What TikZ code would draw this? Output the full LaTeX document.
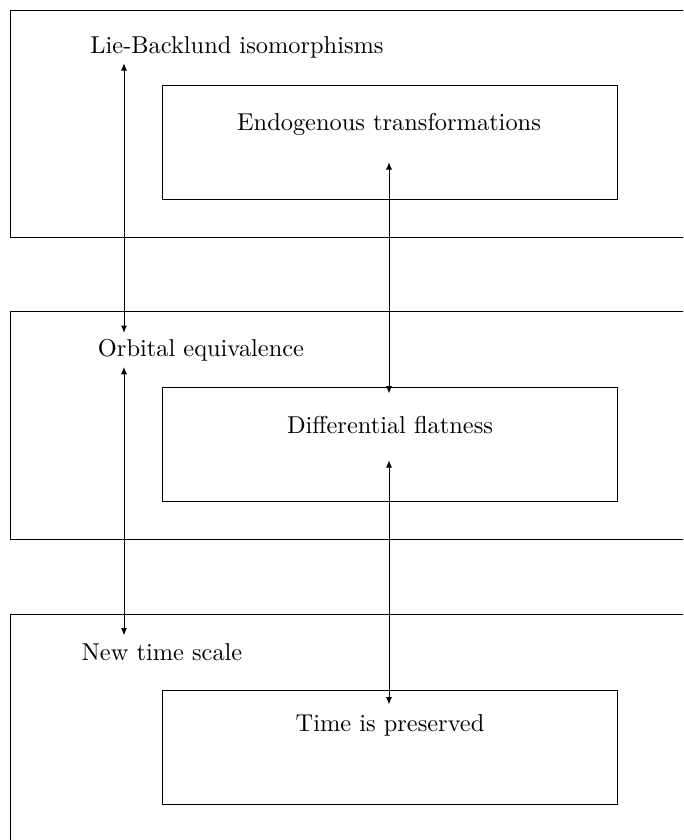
\documentclass[tikz,border=0pt]{standalone}
\usetikzlibrary{arrows.meta}
\begin{document}
\begin{tikzpicture}[
  x=0.41pt, y=-0.41pt,
  frame/.style={draw, line width=0.4pt},
  lbl/.style={anchor=base, inner xsep=0pt, text height=7pt, text depth=2pt, font=\normalsize},
  link/.style={{Latex[length=3pt,width=2.5pt]}-{Latex[length=3pt,width=2.5pt]}, line width=0.4pt}
]
\useasboundingbox (0,0) rectangle (683,840);
\clip (0,0) rectangle (683,840);

% outer frames (run past the right and bottom edges)
\draw[frame] (10,10)  rectangle (770,237);
\draw[frame] (10,311) rectangle (770,539);
\draw[frame] (10,614) rectangle (770,845);

% inner frames
\draw[frame] (162,85)  rectangle (617,199);
\draw[frame] (162,387) rectangle (617,501);
\draw[frame] (162,690) rectangle (617,804);

% labels
\node[lbl, inner ysep=2pt]   (lie)  at (237,53)  {Lie-Backlund isomorphisms};
\node[lbl, inner ysep=11pt]  (endo) at (389,130) {Endogenous transformations};
\node[lbl, inner ysep=2.3pt] (orb)  at (201,356) {Orbital equivalence};
\node[lbl, inner ysep=9pt]   (diff) at (390,433) {Differential flatness};
\node[lbl, inner ysep=2.9pt] (newt) at (162,660) {New time scale};
\node[lbl, inner ysep=3.7pt] (pres) at (390,731) {Time is preserved};

% vertical axes of the connectors
\coordinate (lx) at (124,0);
\coordinate (rx) at (389,0);

\draw[link] (lie.south -| lx)  -- (orb.north -| lx);
\draw[link] (orb.south -| lx)  -- (newt.north -| lx);
\draw[link] (endo.south -| rx) -- (diff.north -| rx);
\draw[link] (diff.south -| rx) -- (pres.north -| rx);
\end{tikzpicture}
\end{document}
